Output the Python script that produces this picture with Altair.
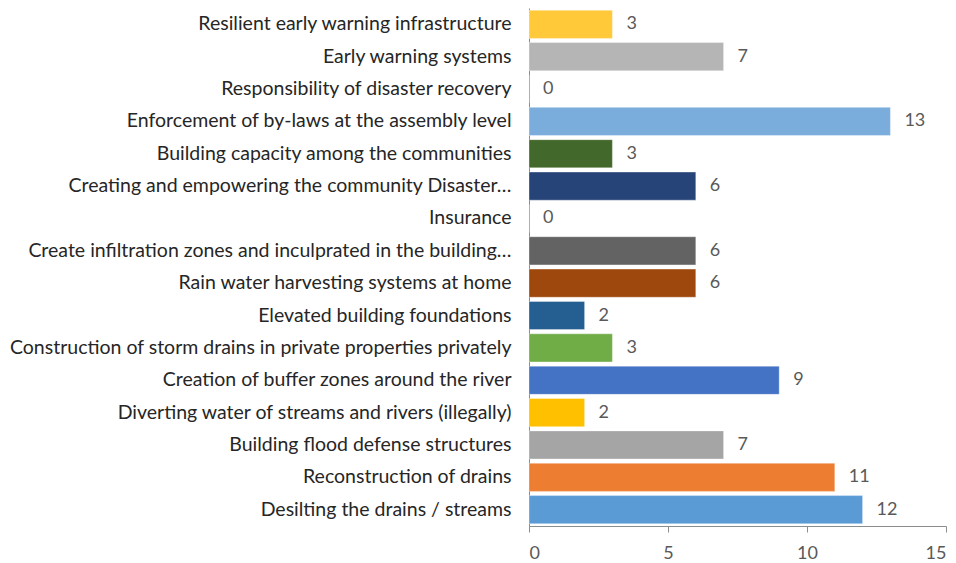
import altair as alt
import pandas as pd

categories = [
    "Resilient early warning infrastructure",
    "Early warning systems",
    "Responsibility of disaster recovery",
    "Enforcement of by-laws at the assembly level",
    "Building capacity among the communities",
    "Creating and empowering the community Disaster…",
    "Insurance",
    "Create infiltration zones and inculprated in the building…",
    "Rain water harvesting systems at home",
    "Elevated building foundations",
    "Construction of storm drains in private properties privately",
    "Creation of buffer zones around the river",
    "Diverting water of streams and rivers (illegally)",
    "Building flood defense structures",
    "Reconstruction of drains",
    "Desilting the drains / streams",
]
values = [3, 7, 0, 13, 3, 6, 0, 6, 6, 2, 3, 9, 2, 7, 11, 12]
colors = [
    "#FFC93A", "#B5B5B5", "#FFFFFF", "#7AACDC", "#43682B", "#264478",
    "#FFFFFF", "#636363", "#9E480E", "#255E91", "#70AD47", "#4472C4",
    "#FFC000", "#A5A5A5", "#ED7D31", "#5B9BD5",
]

df = pd.DataFrame({"category": categories, "value": values, "color": colors})

FONT = "Lato"

base = alt.Chart(df).encode(
    y=alt.Y(
        "category:N",
        sort=categories,
        title=None,
        scale=alt.Scale(paddingInner=0.13, paddingOuter=0.07),
        axis=alt.Axis(
            labelFont=FONT,
            labelFontSize=19.5,
            labelColor="#262626",
            labelPadding=18,
            labelLimit=529,
            ticks=False,
            domain=True,
            domainColor="#8C8C8C",
            domainWidth=1,
        ),
    )
)

bars = base.mark_bar(strokeWidth=1, strokeOpacity=0.35, stroke="#FFFFFF").encode(
    x=alt.X(
        "value:Q",
        title=None,
        scale=alt.Scale(domain=[0, 15], nice=False),
        axis=alt.Axis(
            values=[0, 5, 10, 15],
            labelFont=FONT,
            labelFontSize=18,
            labelColor="#595959",
            labelPadding=12,
            grid=False,
            domainColor="#8C8C8C",
            tickColor="#8C8C8C",
            tickSize=6,
        ),
    ),
    color=alt.Color("color:N", scale=None),
)

labels = base.mark_text(
    align="left", baseline="middle", dx=14, font=FONT, fontSize=18, color="#595959"
).encode(
    x=alt.X("value:Q"),
    text=alt.Text("value:Q"),
)

chart = (
    alt.layer(bars, labels)
    .properties(
        width=417,
        height=518,
        autosize=alt.AutoSizeParams(type="none"),
        padding={"left": 529, "top": 8, "right": 10, "bottom": 37},
        background="#FFFFFF",
    )
    .configure_view(strokeWidth=0, stroke="transparent")
)

chart.save("out.html", embed_options={"renderer": "svg", "actions": False})
